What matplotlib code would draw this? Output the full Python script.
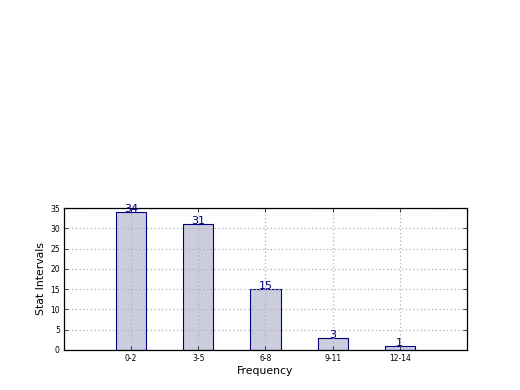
import numpy as np
import matplotlib
matplotlib.use('Agg')
import matplotlib.pyplot as plt

# data
intervals = ['0-2', '3-5', '6-8', '9-11', '12-14']
counts = [34, 31, 15, 3, 1]

fig = plt.figure(figsize=(5.2, 3.9), dpi=100)
ax = fig.add_axes([0.123, 0.1026, 0.775, 0.364])

x = np.arange(len(intervals))
ax.bar(x, counts, width=0.45, color='#ccccdf', edgecolor='#000080', linewidth=0.8, zorder=1)

for xi, c in zip(x, counts):
  ax.text(xi, c, str(c), ha='center', va='baseline', color='#000080', fontsize=8)

ax.set_xlim(-1, len(intervals))
ax.set_ylim(0, 35)
ax.set_xticks(x)
ax.set_xticklabels(intervals)
ax.set_yticks(np.arange(0, 36, 5))
ax.tick_params(axis='both', labelsize=5.5, direction='in', top=True, right=True, length=3, width=0.5, pad=3)
ax.grid(True, color='#b0b0b0', linestyle=(0, (1, 2)), linewidth=0.9)
ax.set_axisbelow('line')
for sp in ax.spines.values():
  sp.set_linewidth(0.9)

ax.set_xlabel('Frequency', fontsize=7.8, labelpad=2)
ax.set_ylabel('Stat Intervals', fontsize=7.8, labelpad=3)

plt.savefig('out.png', dpi=100)
